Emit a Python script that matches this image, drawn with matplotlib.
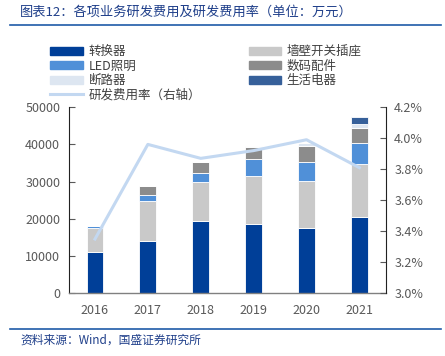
import numpy as np
import matplotlib
matplotlib.use('Agg')
import matplotlib.pyplot as plt
from matplotlib.lines import Line2D
from matplotlib.patches import Patch

plt.rcParams['font.family'] = ['Noto Sans CJK SC', 'DejaVu Sans']

years = ['2016', '2017', '2018', '2019', '2020', '2021']
converter = [11000, 14000, 19300, 18700, 17600, 20500]
wall = [6500, 10900, 10500, 12900, 12600, 14300]
led = [600, 1400, 2400, 4400, 5000, 5500]
digital = [0, 2500, 3000, 3400, 4400, 4000]
breaker = [0, 0, 0, 300, 700, 1200]
life = [0, 0, 0, 0, 0, 1800]
rate = [3.35, 3.96, 3.87, 3.92, 3.99, 3.81]

series = [
    ('转换器', converter, '#003F98'),
    ('墙壁开关插座', wall, '#C9C9C9'),
    ('LED照明', led, '#5090D8'),
    ('数码配件', digital, '#8C8C8C'),
    ('断路器', breaker, '#DDE6F1'),
    ('生活电器', life, '#36609A'),
]

fig = plt.figure(figsize=(4.45, 3.56), dpi=100)
ax = fig.add_axes([0.154, 0.176, 0.713, 0.523])
x = np.arange(len(years))
bottom = np.zeros(len(years))
handles = {}
for name, vals, col in series:
    ax.bar(x, vals, 0.32, bottom=bottom, color=col, edgecolor='white', linewidth=0.6, zorder=2)
    bottom += np.array(vals)
    handles[name] = Patch(color=col)

ax.set_xlim(-0.5, 5.5)
ax.set_ylim(0, 50000)
ax.set_yticks(range(0, 50001, 10000))
ax.set_xticks(x)
ax.set_xticklabels(years)
ax.tick_params(axis='y', direction='in', length=4, colors='#595959', labelsize=9, pad=6)
ax.tick_params(axis='x', length=0, colors='#595959', labelsize=9, pad=8)
for s in ['top', 'right']:
    ax.spines[s].set_visible(False)
ax.spines['left'].set_color('#222222')
ax.spines['left'].set_linewidth(0.8)
ax.spines['bottom'].set_color('#808080')
ax.spines['bottom'].set_linewidth(1.0)

ax2 = ax.twinx()
ax2.plot(x, rate, color='#C3D8F1', lw=2.2, zorder=3)
ax2.set_ylim(3.0, 4.2)
ax2.set_yticks(np.arange(3.0, 4.21, 0.2))
ax2.set_yticklabels(['%.1f%%' % v for v in np.arange(3.0, 4.21, 0.2)])
ax2.tick_params(axis='y', direction='in', length=4, colors='#595959', labelsize=9, pad=6)
for s in ['top', 'left', 'bottom']:
    ax2.spines[s].set_visible(False)
ax2.spines['right'].set_color('#222222')
ax2.spines['right'].set_linewidth(0.8)

line_h = Line2D([], [], color='#C3D8F1', lw=2.2)
order = ['转换器', 'LED照明', '断路器', None, '墙壁开关插座', '数码配件', '生活电器']
labels = ['转换器', 'LED照明', '断路器', '研发费用率（右轴）', '墙壁开关插座', '数码配件', '生活电器']
hs = [handles[n] if n else line_h for n in order]
fig.legend(hs, labels, ncol=2, loc='upper left', bbox_to_anchor=(0.088, 0.905),
           frameon=False, fontsize=9, handlelength=2.6, handleheight=0.6,
           labelspacing=0.12, columnspacing=3.8, handletextpad=0.45,
           labelcolor='#404040')

fig.text(0.045, 0.965, '图表12：各项业务研发费用及研发费用率（单位：万元）', fontsize=9.5,
         color='#1F3F8A', style='italic', va='center')
fig.add_artist(Line2D([0.022, 0.99], [0.93, 0.93], color='#1F5BA8', lw=1.2))
fig.add_artist(Line2D([0.022, 0.99], [0.077, 0.077], color='#1F5BA8', lw=1.2))
fig.text(0.045, 0.045, '资料来源：Wind，国盛证券研究所', fontsize=8.5,
         color='#1F3F8A', style='italic', va='center')

fig.savefig('out.png', dpi=100)
